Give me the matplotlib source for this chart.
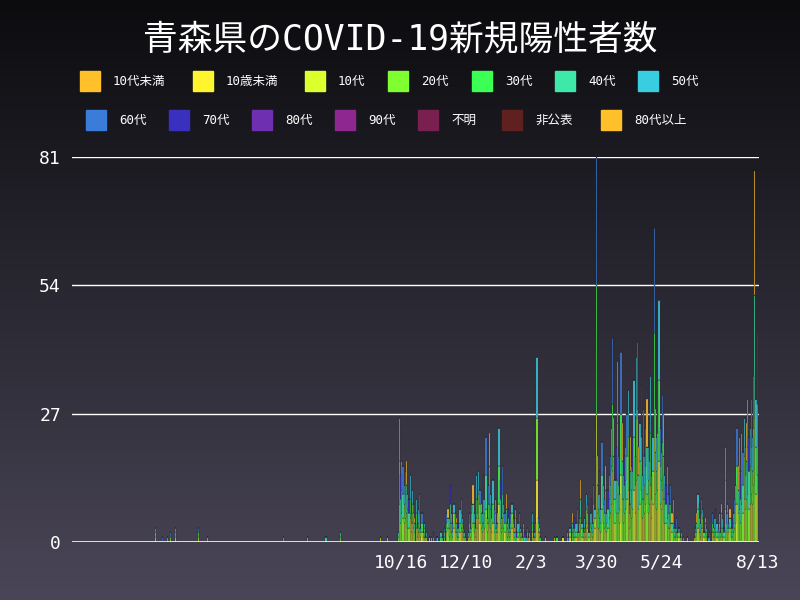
import numpy as np
import pandas as pd
import matplotlib
matplotlib.use("Agg")
import matplotlib.pyplot as plt
import matplotlib.patches as mpatches

plt.rcParams['font.family'] = ['DejaVu Sans Mono', 'Noto Sans CJK JP']

# ── data ───────────────────────────────────────────────────────────────────────
CATEGORIES = ["10代未満", "10歳未満", "10代", "20代", "30代", "40代", "50代",
              "60代", "70代", "80代", "90代", "不明", "非公表", "80代以上"]
COLORS = ["#ffc02a", "#fff52e", "#dcff2e", "#80ff30", "#3cff55", "#3de8a8", "#38cde0",
          "#3a7cd8", "#3a30c0", "#6e30b0", "#8e2890", "#7a2050", "#602020", "#ffc02a"]
# rough weighting of cases per category (cases drawn cyclically through this list)
CAT_WEIGHTS = [0, 2, 2, 4, 3, 3, 3, 2, 1, 0, 0, 0, 0, 1]

EARLY_DATES = ["2020-03-23", "2020-03-29", "2020-04-02", "2020-04-05", "2020-04-09",
               "2020-04-28", "2020-05-06", "2020-07-09", "2020-07-29", "2020-08-14",
               "2020-08-26", "2020-09-29"]
EARLY_CASES = [3, 1, 1, 2, 3, 3, 1, 1, 1, 1, 2, 1]

DAILY_START = "2020-10-01"
DAILY_CASES = [
    0, 0, 0, 0, 1, 0, 0, 0, 0, 0,
    0, 0, 0, 2, 26, 14, 17, 16, 12, 15,
    17, 10, 9, 14, 6, 11, 8, 5, 9, 4,
    7, 10, 3, 6, 2, 4, 1, 2, 0, 1,
    0, 1, 0, 2, 0, 1, 1, 0, 0, 2,
    1, 0, 3, 0, 6, 7, 5, 12, 6, 4,
    8, 6, 5, 3, 4, 7, 9, 5, 3, 2,
    1, 0, 2, 6, 3, 8, 12, 6, 4, 14,
    9, 15, 11, 8, 6, 14, 9, 22, 5, 12,
    23, 10, 8, 13, 7, 9, 4, 6, 24, 13,
    5, 16, 8, 6, 10, 4, 7, 3, 6, 8,
    5, 3, 7, 2, 4, 6, 3, 2, 1, 4,
    2, 1, 3, 1, 2, 0, 6, 1, 2, 4,
    39, 5, 3, 1, 0, 0, 0, 1, 0, 0,
    0, 0, 0, 0, 0, 1, 0, 1, 0, 0,
    0, 0, 1, 0, 0, 0, 2, 1, 3, 0,
    6, 3, 5, 4, 7, 2, 5, 13, 4, 3,
    5, 3, 10, 8, 2, 6, 9, 4, 12, 7,
    81, 18, 10, 15, 7, 21, 12, 9, 16, 6,
    11, 14, 18, 24, 43, 26, 13, 20, 38, 18,
    10, 40, 25, 14, 18, 20, 27, 32, 8, 22,
    16, 22, 34, 18, 39, 42, 20, 25, 33, 14,
    28, 18, 24, 30, 20, 26, 35, 14, 22, 66,
    28, 22, 34, 51, 24, 19, 31, 27, 14, 12,
    16, 10, 8, 12, 6, 9, 4, 3, 5, 2,
    3, 1, 2, 0, 1, 0, 0, 1, 0, 0,
    0, 0, 0, 1, 3, 6, 10, 8, 4, 9,
    7, 2, 5, 3, 0, 1, 2, 0, 6, 3,
    5, 7, 4, 3, 6, 2, 8, 5, 3, 20,
    6, 8, 4, 7, 3, 5, 6, 9, 12, 24,
    16, 22, 14, 23, 19, 26, 20, 25, 30, 22,
    24, 30, 22, 35, 78, 30, 44,
]

TICK_DATES = ["2020-10-16", "2020-12-10", "2021-02-03", "2021-03-30", "2021-05-24", "2021-08-13"]
TICK_LABELS = ["10/16", "12/10", "2/3", "3/30", "5/24", "8/13"]
Y_TICKS = [0, 27, 54, 81]

# ── build table ────────────────────────────────────────────────────────────────
dates = pd.date_range("2020-01-13", "2021-08-13", freq="D")
totals = pd.Series(0, index=dates)
for d, c in zip(EARLY_DATES, EARLY_CASES):
    totals[pd.Timestamp(d)] = c
daily_idx = pd.date_range(DAILY_START, periods=len(DAILY_CASES), freq="D")
totals[daily_idx] = DAILY_CASES

seq = [i for i, w in enumerate(CAT_WEIGHTS) for _ in range(w)]
counts = np.zeros((len(CATEGORIES), len(dates)))
for k, n in enumerate(totals.values):
    for j in range(int(n)):
        counts[seq[(j * 7 + k * 3) % len(seq)], k] += 1

# ── figure ─────────────────────────────────────────────────────────────────────
fig = plt.figure(figsize=(8, 6), dpi=100)
bg = fig.add_axes([0, 0, 1, 1], zorder=-10)
grad = np.linspace(0, 1, 256)[:, None]
cmap = matplotlib.colors.LinearSegmentedColormap.from_list("bg", ["#0c0c0f", "#2a2832", "#4a4658"])
bg.imshow(grad, aspect="auto", cmap=cmap, extent=[0, 1, 0, 1])
bg.axis("off")

fig.text(0.5, 0.935, "青森県のCOVID-19新規陽性者数", color="white", fontsize=25,
         ha="center", va="center")

# legend (two rows, pixel positions of the swatches)
legend_x = [80, 193, 305, 388, 472, 555, 638, 86, 169, 252, 335, 418, 502, 601]
for i, (name, col) in enumerate(zip(CATEGORIES, COLORS)):
    x0 = legend_x[i]
    y0 = 81 if i < 7 else 120
    fig.patches.append(mpatches.Rectangle((x0 / 800, 1 - (y0 + 10) / 600), 20 / 800, 20 / 600,
                                          transform=fig.transFigure, color=col))
    fig.text((x0 + 33) / 800, 1 - y0 / 600, name, color="white", fontsize=9, va="center")

ax = fig.add_axes([72 / 800, 58 / 600, 687 / 800, 385 / 600])
ax.patch.set_alpha(0)
bottom = np.zeros(len(dates))
for ci in range(len(CATEGORIES)):
    ax.bar(dates, counts[ci], bottom=bottom, width=1.0, color=COLORS[ci],
           edgecolor="#2a2a30", linewidth=0.25, zorder=3)
    bottom += counts[ci]

ax.set_ylim(0, 81)
ax.set_xlim(dates[0] - pd.Timedelta(days=0.5), dates[-1] + pd.Timedelta(days=1.5))
ax.set_yticks(Y_TICKS)
ax.set_yticklabels([str(v) for v in Y_TICKS], color="white", fontsize=13)
ax.set_xticks(pd.to_datetime(TICK_DATES))
ax.set_xticklabels(TICK_LABELS, color="white", fontsize=13)
ax.tick_params(length=0, pad=8)
ax.grid(axis="y", color="white", linewidth=1, zorder=1)
for s in ax.spines.values():
    s.set_visible(False)
ax.axhline(0, color="white", linewidth=1.2, zorder=4)

fig.savefig("out.png", dpi=100)
